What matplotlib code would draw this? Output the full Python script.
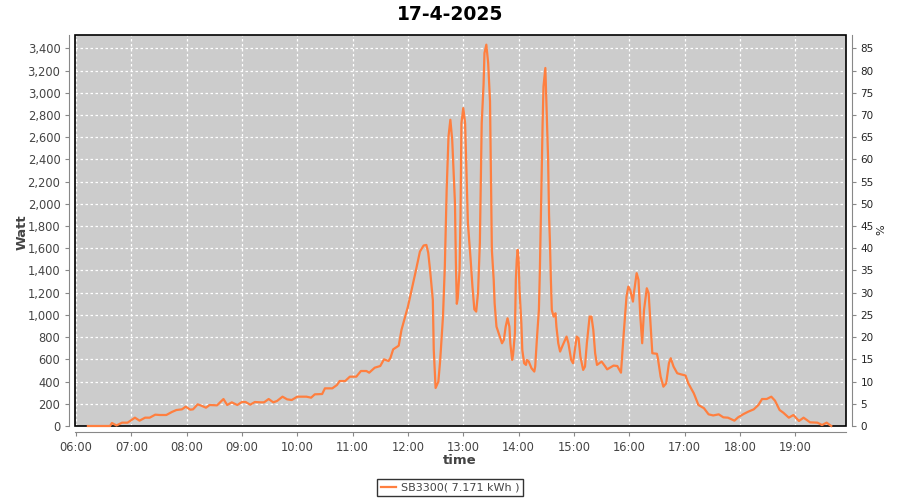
import numpy as np
import pandas as pd
import matplotlib
matplotlib.use("Agg")
import matplotlib.pyplot as plt
import matplotlib.dates as mdates
from matplotlib.patches import Rectangle
from matplotlib.lines import Line2D
from matplotlib.ticker import FuncFormatter, MultipleLocator

# gemeten vermogen (W) per tijdstip
times = [
    "06:13", "06:37", "06:39", "06:44", "06:50", "06:56", "07:04", "07:09", "07:15", "07:20",
    "07:26", "07:31", "07:38", "07:44", "07:49", "07:55", "07:59", "08:04", "08:07", "08:12",
    "08:16", "08:21", "08:25", "08:33", "08:40", "08:44", "08:49", "08:55", "09:00", "09:04",
    "09:09", "09:14", "09:20", "09:24", "09:29", "09:34", "09:38", "09:44", "09:49", "09:54",
    "10:00", "10:10", "10:15", "10:19", "10:27", "10:30", "10:38", "10:43", "10:46", "10:52",
    "10:57", "11:04", "11:09", "11:15", "11:18", "11:24", "11:30", "11:34", "11:39", "11:41",
    "11:44", "11:50", "11:53", "11:57", "12:00", "12:04", "12:08", "12:13", "12:17", "12:20",
    "12:22", "12:24", "12:27", "12:28", "12:30", "12:33", "12:35", "12:38", "12:40", "12:42",
    "12:44", "12:46", "12:48", "12:51", "12:52", "12:53", "12:54", "12:56", "12:57", "12:58",
    "13:00", "13:02", "13:04", "13:05", "13:08", "13:10", "13:12", "13:14", "13:16", "13:18",
    "13:20", "13:22", "13:23", "13:25", "13:27", "13:29", "13:30", "13:31", "13:33", "13:34",
    "13:36", "13:39", "13:42", "13:44", "13:46", "13:48", "13:50", "13:51", "13:53", "13:54",
    "13:56", "13:57", "13:58", "13:59", "14:00", "14:01", "14:03", "14:04", "14:06", "14:08",
    "14:09", "14:11", "14:14", "14:17", "14:18", "14:20", "14:22", "14:23", "14:25", "14:26",
    "14:27", "14:29", "14:31", "14:32", "14:33", "14:34", "14:35", "14:36", "14:38", "14:40",
    "14:41", "14:43", "14:45", "14:48", "14:52", "14:54", "14:57", "14:59", "15:00", "15:03",
    "15:05", "15:07", "15:10", "15:12", "15:14", "15:17", "15:19", "15:21", "15:23", "15:25",
    "15:30", "15:34", "15:36", "15:43", "15:47", "15:51", "15:54", "15:57", "15:59", "16:01",
    "16:04", "16:05", "16:08", "16:10", "16:12", "16:14", "16:16", "16:19", "16:21", "16:23",
    "16:25", "16:30", "16:31", "16:34", "16:37", "16:40", "16:43", "16:45", "16:48", "16:52",
    "16:56", "17:01", "17:04", "17:10", "17:15", "17:21", "17:26", "17:31", "17:37", "17:42",
    "17:47", "17:54", "17:58", "18:04", "18:09", "18:15", "18:20", "18:24", "18:29", "18:34",
    "18:38", "18:43", "18:47", "18:53", "18:58", "19:04", "19:09", "19:16", "19:24", "19:29",
    "19:34", "19:39",
]
watt = [
    0, 0, 27, 5, 30, 30, 75, 48, 75, 75,
    102, 99, 99, 126, 144, 150, 174, 147, 150, 195,
    183, 165, 189, 186, 243, 189, 213, 189, 216, 216,
    192, 216, 213, 213, 243, 213, 225, 264, 240, 234,
    264, 264, 255, 285, 288, 339, 339, 369, 405, 405,
    444, 444, 495, 495, 480, 525, 540, 600, 585, 612,
    690, 723, 865, 985, 1075, 1225, 1376, 1570, 1625, 1630,
    1560, 1405, 1135, 685, 342, 400, 595, 985, 1435, 2126,
    2607, 2757, 2577, 2006, 1466, 1100, 1150, 1405, 1886, 2727,
    2862, 2727, 2126, 1830, 1496, 1250, 1050, 1030, 1200, 1650,
    2727, 3072, 3358, 3433, 3268, 2922, 2246, 1586, 1315, 1105,
    895, 820, 745, 775, 895, 970, 895, 745, 595, 640,
    835, 1315, 1496, 1586, 1496, 1225, 925, 685, 565, 550,
    595, 580, 520, 490, 535, 805, 1045, 1376, 2246, 2712,
    3057, 3223, 2667, 2400, 1900, 1646, 1315, 1045, 985, 1015,
    895, 745, 670, 730, 805, 745, 595, 565, 625, 805,
    790, 625, 505, 535, 745, 985, 985, 865, 655, 550,
    580, 535, 510, 544, 540, 480, 835, 1165, 1255, 1225,
    1120, 1195, 1376, 1315, 985, 745, 1045, 1240, 1195, 925,
    655, 650, 610, 444, 354, 384, 565, 610, 535, 475,
    465, 455, 384, 294, 189, 160, 105, 95, 105, 78,
    75, 48, 78, 108, 129, 150, 189, 243, 243, 264,
    228, 144, 120, 75, 99, 45, 75, 33, 30, 9,
    30, 0,
]
day = "2025-04-17"
title = "17-4-2025"
series_label = "SB3300( 7.171 kWh )"

LINE = "#ff7f3f"
GREY_TXT = "#444444"
AXIS_GREY = "#888888"

t = pd.to_datetime([f"{day} {s}" for s in times])

fig = plt.figure(figsize=(9, 5), dpi=100)
ax = fig.add_axes([75 / 900, 1 - 426 / 500, (846 - 75) / 900, (426 - 35) / 500])
ax.set_facecolor("#cccccc")

# zwarte rand rond het plotgebied
ax.add_patch(Rectangle((0, 0), 1, 1, transform=ax.transAxes, fill=False,
                       edgecolor="black", lw=1.2, zorder=4, clip_on=False))
ax.plot(t, watt, color=LINE, lw=1.6, zorder=6, clip_on=False)

ax.set_xlim(pd.Timestamp(f"{day} 05:59"), pd.Timestamp(f"{day} 19:55"))
ax.set_ylim(0, 3520)
ax.xaxis.set_major_locator(mdates.HourLocator())
ax.xaxis.set_major_formatter(mdates.DateFormatter("%H:%M"))
ax.yaxis.set_major_locator(MultipleLocator(200))
ax.yaxis.set_major_formatter(FuncFormatter(lambda v, p: f"{int(v):,}"))

ax.grid(True, color="white", linestyle=(0, (2, 2)), linewidth=0.9)
ax.set_axisbelow(True)

for s in ["top", "right"]:
    ax.spines[s].set_visible(False)
for s in ["left", "bottom"]:
    ax.spines[s].set_position(("outward", 4))
    ax.spines[s].set_color(AXIS_GREY)
ax.tick_params(axis="both", colors=AXIS_GREY, labelcolor=GREY_TXT, labelsize=8.3, length=3, width=0.8)

ax2 = ax.twinx()
ax2.set_ylim(0, 88)
ax2.yaxis.set_major_locator(MultipleLocator(5))
for s in ["top", "left", "bottom"]:
    ax2.spines[s].set_visible(False)
ax2.spines["right"].set_position(("outward", 4))
ax2.spines["right"].set_color(AXIS_GREY)
ax2.tick_params(axis="y", colors=AXIS_GREY, labelcolor="#222222", labelsize=7.5, length=3, width=0.8)

fig.text(0.5, 1 - 14 / 500, title, ha="center", va="center", fontsize=13.5, fontweight="bold")
fig.text(22 / 900, 1 - 232 / 500, "Watt", rotation=90, ha="center", va="center",
         fontsize=9.5, fontweight="bold", color=GREY_TXT)
fig.text(881 / 900, 1 - 230 / 500, "%", rotation=90, ha="center", va="center",
         fontsize=8, color="#222222")
fig.text(460 / 900, 1 - 460 / 500, "time", ha="center", va="center",
         fontsize=9.5, fontweight="bold", color=GREY_TXT)

handle = Line2D([], [], color=LINE, lw=1.6)
leg = fig.legend([handle], [series_label], loc="center", bbox_to_anchor=(450 / 900, 1 - 487.5 / 500),
                 fontsize=8, frameon=True, fancybox=False, handlelength=1.4, handletextpad=0.4,
                 borderpad=0.35, borderaxespad=0)
leg.get_frame().set_edgecolor("black")
leg.get_frame().set_linewidth(1.0)
for txt in leg.get_texts():
    txt.set_color(GREY_TXT)

fig.savefig("out.png", dpi=100)
